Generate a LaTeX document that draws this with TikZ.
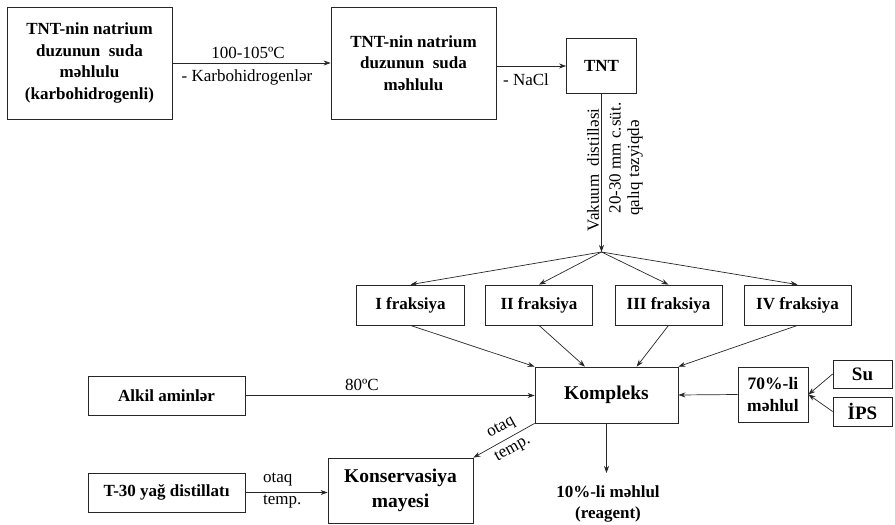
\documentclass[tikz,border=0pt]{standalone}
\usepackage{fontspec}
\setmainfont{Liberation Serif}
\usetikzlibrary{arrows.meta,calc}
\tikzset{
  box/.style={draw=black!85, line width=0.8pt, font=\fontsize{17}{21.7}\selectfont\bfseries, align=center, inner sep=0pt},
  bigbox/.style={box, font=\fontsize{19.5}{25}\selectfont\bfseries},
  lbl/.style={font=\fontsize{17}{21}\selectfont, inner sep=0pt},
  arr/.style={draw=black!85, -{Stealth[length=7pt,width=5pt]}, line width=0.7pt},
}
\begin{document}
\begin{tikzpicture}[x=1pt,y=-1pt]
\useasboundingbox (0,0) rectangle (895,525);
% top row
\node[box, minimum width=165pt, minimum height=112pt] (b1) at (89.5,63) {TNT-nin natrium\\duzunun\ \ suda\\məhlulu\\(karbohidrogenli)};
\node[box, minimum width=165pt, minimum height=112pt] (b2) at (413.5,63) {TNT-nin natrium\\duzunun\ \ suda\\məhlulu};
\node[box, minimum width=70pt, minimum height=55pt] (tnt) at (601.5,66) {TNT};
\draw[arr] (b1.east) -- (b2.west);
\draw[arr] (b2.east |- tnt.west) -- (tnt.west);
\node[lbl] (l1) at (248,53) {100-105ºC};
\node[lbl] (l2) at (247,77) {- Karbohidrogenlər};
\node[lbl] (l3) at (526,80) {- NaCl};
% vacuum distillation
\coordinate (br) at (601.5,252);
\draw[arr] (tnt.south) -- (br);
\node[lbl, rotate=90] (v1) at (593,170) {Vakuum\ \ distilləsi};
\node[lbl, rotate=90] (v2) at (615,158) {20-30 mm c.süt.};
\node[lbl, rotate=90] (v3) at (635,168) {qalıq təzyiqdə};
% fractions
\node[box, minimum width=108pt, minimum height=40pt] (f1) at (410.5,305) {I fraksiya};
\node[box, minimum width=107pt, minimum height=40pt] (f2) at (539,305) {II fraksiya};
\node[box, minimum width=107pt, minimum height=40pt] (f3) at (668.5,305) {III fraksiya};
\node[box, minimum width=107pt, minimum height=40pt] (f4) at (797.5,305) {IV fraksiya};
\draw[arr] (br) -- (f1.north);
\draw[arr] (br) -- (f2.north);
\draw[arr] (br) -- (f3.north);
\draw[arr] (br) -- (f4.north);
% Kompleks
\node[bigbox, minimum width=143pt, minimum height=56pt] (k) at (606.5,395) {Kompleks};
\draw[arr] (f1.south) -- (k.north west);
\draw[arr] (f2.south) -- ($(k.north west)!0.35!(k.north east)$);
\draw[arr] (f3.south) -- ($(k.north west)!0.71!(k.north east)$);
\draw[arr] (f4.south) -- (k.north east);
% left inputs
\node[box, minimum width=157pt, minimum height=39pt] (a) at (166.5,395.5) {Alkil aminlər};
\draw[arr] (a.east) -- (a.east -| k.west);
\node[lbl] (l4) at (362,385) {80ºC};
\node[box, minimum width=157pt, minimum height=39pt] (t) at (166.5,492.5) {T-30 yağ distillatı};
\node[bigbox, minimum width=145pt, minimum height=65pt] (c) at (400.5,490.5) {Konservasiya\\mayesi};
\draw[arr] (t.east) -- (t.east -| c.west);
\node[lbl, anchor=west] (l5) at (263,480) {otaq};
\node[lbl, anchor=west] (l6) at (263,502) {temp.};
\draw[arr] (k.south west) -- (c.north east) node[pos=0.45, lbl, rotate=29, align=center, font=\fontsize{17}{24}\selectfont] (l7) {otaq\\temp.};
% output
\coordinate (kd) at (606.5,473);
\draw[arr] (k.south) -- (kd);
\node[box, draw=none, align=center] (r) at (608,504) {10\%-li məhlul\\(reagent)};
% right inputs
\node[box, minimum width=70pt, minimum height=55pt, font=\fontsize{17.5}{21.7}\selectfont\bfseries] (m) at (773,394.5) {70\%-li\\məhlul};
\draw[arr] (m.west) -- (k.east);
\node[box, minimum width=59pt, minimum height=28pt, font=\fontsize{19}{22}\selectfont\bfseries] (s) at (862.5,374) {Su};
\node[box, minimum width=59pt, minimum height=29pt, font=\fontsize{19}{22}\selectfont\bfseries] (p) at (862.5,411.5) {İPS};
\draw[arr] (s.west) -- (m.east);
\draw[arr] (p.west) -- (m.east);
\end{tikzpicture}
\end{document}
